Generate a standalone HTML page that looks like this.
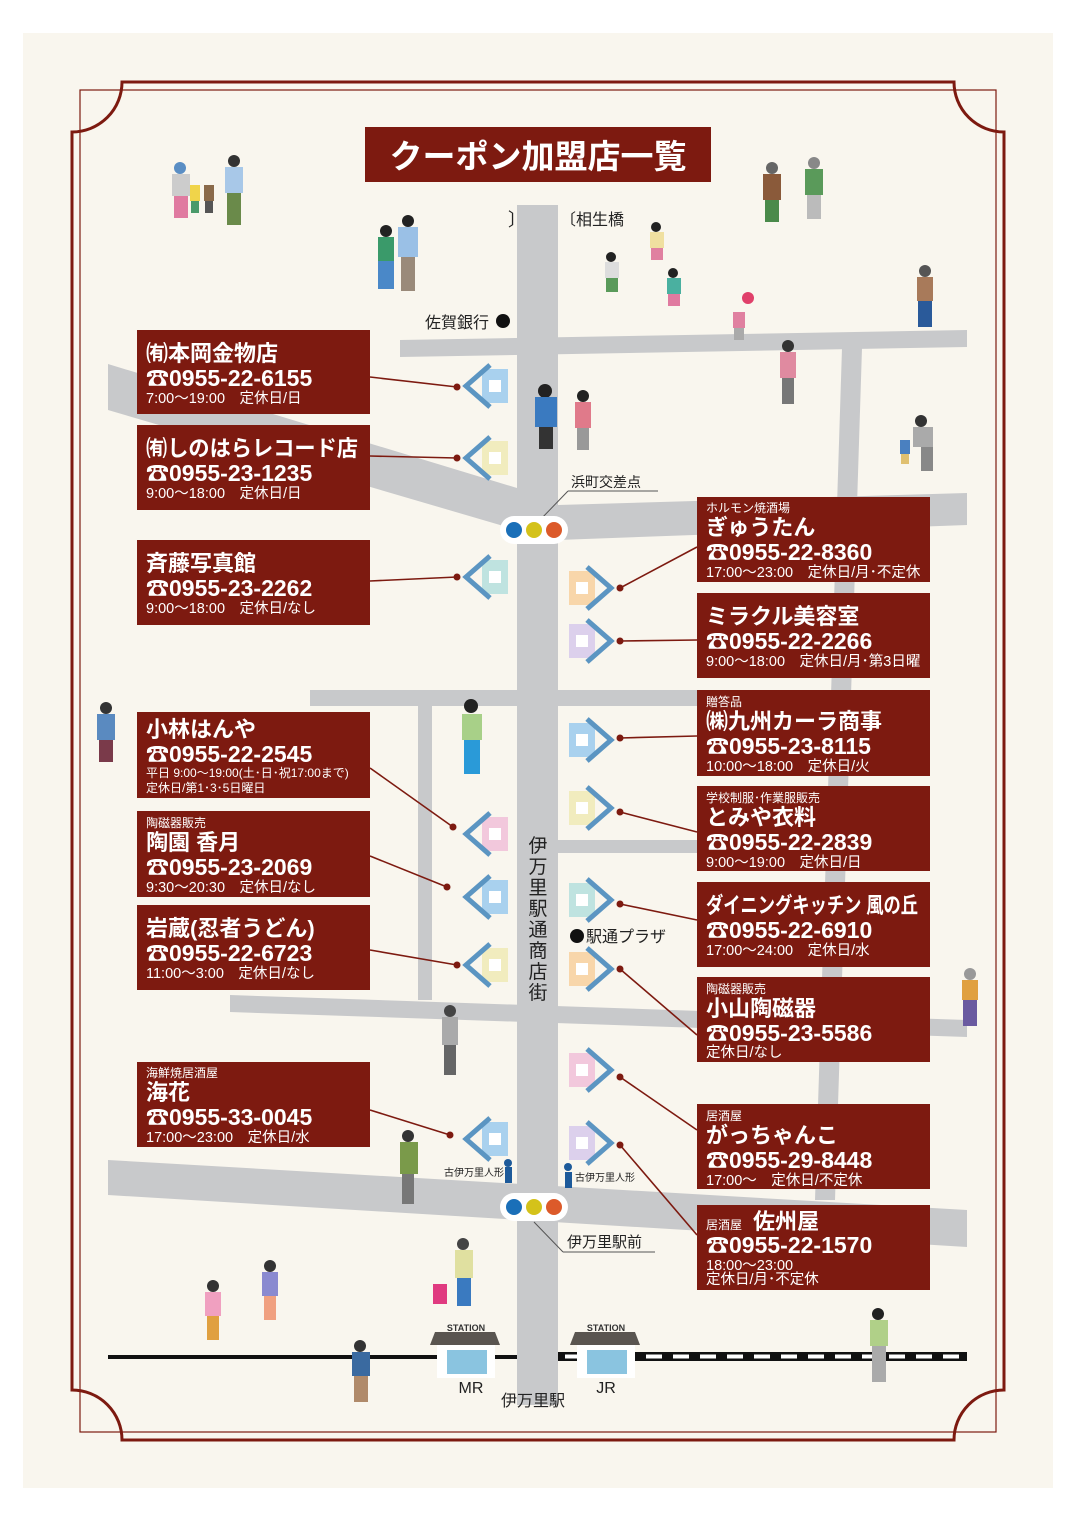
<!DOCTYPE html>
<html><head><meta charset="utf-8">
<style>
html,body{margin:0;padding:0;background:#fff;}
svg{display:block;}
text{font-family:"Liberation Sans","Noto Sans CJK JP",sans-serif;}
.n{fill:#fff;font-size:22px;font-weight:bold;}
.p{fill:#fff;font-size:23px;font-weight:bold;}
.h{fill:#fff;font-size:14.5px;}
.c{fill:#fff;font-size:12px;}
.b{fill:#7d1a10;}
.l{stroke:#7d1a10;stroke-width:1.6;fill:none;}
.d{fill:#7d1a10;}
.r{fill:#c8c9cb;}
.t{fill:#222;}
</style></head><body>
<svg width="1076" height="1522" viewBox="0 0 1076 1522" xmlns="http://www.w3.org/2000/svg">
<rect x="0" y="0" width="1076" height="1522" fill="#fff"/>
<rect x="23" y="33" width="1030" height="1455" fill="#f9f6ee"/>

<!-- roads -->
<g class="r">
<polygon points="400,340 967,330 967,347 400,357"/>
<polygon points="108,364 517,488 517,530 108,410"/>
<polygon points="558,505 967,493 967,525 558,540"/>
<polygon points="842,348 862,348 835,1200 815,1200"/>
<polygon points="310,690 697,690 697,706 310,706"/>
<rect x="418" y="700" width="14" height="300"/>
<polygon points="558,840 697,840 697,853 558,853"/>
<polygon points="230,995 967,1020 967,1037 230,1012"/>
<polygon points="108,1160 967,1210 967,1247 108,1195"/>
<rect x="517" y="205" width="41" height="1200"/>
</g>

<!-- frame -->
<g fill="none" stroke="#7d1a10">
<path d="M72,132 A50,50 0 0 0 122,82 L954,82 A50,50 0 0 0 1004,132 L1004,1390 A50,50 0 0 0 954,1440 L122,1440 A50,50 0 0 0 72,1390 Z" stroke-width="3"/>
<rect x="80" y="90" width="916" height="1342" stroke-width="1.2"/>
</g>

<!-- title -->
<rect x="365" y="127" width="346" height="55" class="b"/>
<text x="538" y="168" text-anchor="middle" fill="#fff" style="font-size:33px;font-weight:bold">クーポン加盟店一覧</text>

<!-- labels -->
<text x="508" y="226" class="t" style="font-size:18px">〕</text>
<text x="560" y="225" class="t" style="font-size:16px">〔相生橋</text>
<text x="425" y="328" class="t" style="font-size:16px">佐賀銀行</text><circle cx="503" cy="321" r="7" fill="#111"/>
<text x="571" y="487" class="t" style="font-size:14px">浜町交差点</text>
<line x1="568" y1="491" x2="658" y2="491" stroke="#555" stroke-width="1"/>
<line x1="568" y1="491" x2="540" y2="520" stroke="#555" stroke-width="1"/>
<text x="567" y="1247" class="t" style="font-size:15px">伊万里駅前</text>
<line x1="563" y1="1252" x2="655" y2="1252" stroke="#555" stroke-width="1"/>
<line x1="563" y1="1252" x2="534" y2="1222" stroke="#555" stroke-width="1"/>
<circle cx="577" cy="936" r="7" fill="#111"/><text x="586" y="942" class="t" style="font-size:16px">駅通プラザ</text>
<g class="t" text-anchor="middle" style="font-size:19px">
<text x="538" y="852">伊</text><text x="538" y="873">万</text><text x="538" y="894">里</text><text x="538" y="915">駅</text><text x="538" y="936">通</text><text x="538" y="957">商</text><text x="538" y="978">店</text><text x="538" y="999">街</text>
</g>
<text x="444" y="1176" class="t" style="font-size:10px">古伊万里人形</text>
<rect x="505" y="1167" width="7" height="16" fill="#1d5a9a"/><circle cx="508" cy="1163" r="4" fill="#1d5a9a"/>
<rect x="565" y="1172" width="7" height="16" fill="#1d5a9a"/><circle cx="568" cy="1167" r="4" fill="#1d5a9a"/>
<text x="575" y="1181" class="t" style="font-size:10px">古伊万里人形</text>

<!-- traffic lights -->
<g>
<rect x="500" y="516" width="68" height="28" rx="14" fill="#fff"/>
<circle cx="514" cy="530" r="8" fill="#1a6fb8"/><circle cx="534" cy="530" r="8" fill="#d4c21a"/><circle cx="554" cy="530" r="8" fill="#dc5a2a"/>
<rect x="500" y="1193" width="68" height="28" rx="14" fill="#fff"/>
<circle cx="514" cy="1207" r="8" fill="#1a6fb8"/><circle cx="534" cy="1207" r="8" fill="#d4c21a"/><circle cx="554" cy="1207" r="8" fill="#dc5a2a"/>
</g>

<!-- rail -->
<rect x="108" y="1355" width="409" height="4" fill="#111"/>
<rect x="558" y="1352" width="409" height="9" fill="#111"/>
<line x1="565" y1="1356.5" x2="967" y2="1356.5" stroke="#fff" stroke-width="4" stroke-dasharray="16,11"/>
<!-- stations -->
<g>
<rect x="437" y="1340" width="58" height="38" fill="#fff"/>
<polygon points="430,1345 500,1345 495,1332 435,1332" fill="#5a5550"/>
<text x="466" y="1331" text-anchor="middle" fill="#333" style="font-size:9px;font-weight:bold">STATION</text>
<rect x="447" y="1350" width="40" height="24" fill="#8ac4e0"/>
<text x="471" y="1393" text-anchor="middle" class="t" style="font-size:16px">MR</text>
<rect x="577" y="1340" width="58" height="38" fill="#fff"/>
<polygon points="570,1345 640,1345 635,1332 575,1332" fill="#5a5550"/>
<text x="606" y="1331" text-anchor="middle" fill="#333" style="font-size:9px;font-weight:bold">STATION</text>
<rect x="587" y="1350" width="40" height="24" fill="#8ac4e0"/>
<text x="606" y="1393" text-anchor="middle" class="t" style="font-size:16px">JR</text>
<text x="533" y="1406" text-anchor="middle" class="t" style="font-size:16px">伊万里駅</text>
</g>

<!-- house icons: left pointing -->
<g>
<g transform="translate(475,386)"><rect x="7" y="-17" width="26" height="34" fill="#a9d1ee"/><rect x="14" y="-6" width="12" height="12" fill="#fff"/><polyline points="15,-21 -9,0 15,21" fill="none" stroke="#5b95c2" stroke-width="5"/></g>
<g transform="translate(475,458)"><rect x="7" y="-17" width="26" height="34" fill="#f1ecbe"/><rect x="14" y="-6" width="12" height="12" fill="#fff"/><polyline points="15,-21 -9,0 15,21" fill="none" stroke="#5b95c2" stroke-width="5"/></g>
<g transform="translate(475,577)"><rect x="7" y="-17" width="26" height="34" fill="#bfe3e0"/><rect x="14" y="-6" width="12" height="12" fill="#fff"/><polyline points="15,-21 -9,0 15,21" fill="none" stroke="#5b95c2" stroke-width="5"/></g>
<g transform="translate(475,834)"><rect x="7" y="-17" width="26" height="34" fill="#f2c8dc"/><rect x="14" y="-6" width="12" height="12" fill="#fff"/><polyline points="15,-21 -9,0 15,21" fill="none" stroke="#5b95c2" stroke-width="5"/></g>
<g transform="translate(475,897)"><rect x="7" y="-17" width="26" height="34" fill="#a9d1ee"/><rect x="14" y="-6" width="12" height="12" fill="#fff"/><polyline points="15,-21 -9,0 15,21" fill="none" stroke="#5b95c2" stroke-width="5"/></g>
<g transform="translate(475,965)"><rect x="7" y="-17" width="26" height="34" fill="#f1ecbe"/><rect x="14" y="-6" width="12" height="12" fill="#fff"/><polyline points="15,-21 -9,0 15,21" fill="none" stroke="#5b95c2" stroke-width="5"/></g>
<g transform="translate(475,1139)"><rect x="7" y="-17" width="26" height="34" fill="#a9d1ee"/><rect x="14" y="-6" width="12" height="12" fill="#fff"/><polyline points="15,-21 -9,0 15,21" fill="none" stroke="#5b95c2" stroke-width="5"/></g>
<g transform="translate(602,588)"><rect x="-33" y="-17" width="26" height="34" fill="#f8d6aa"/><rect x="-26" y="-6" width="12" height="12" fill="#fff"/><polyline points="-15,-21 9,0 -15,21" fill="none" stroke="#5b95c2" stroke-width="5"/></g>
<g transform="translate(602,641)"><rect x="-33" y="-17" width="26" height="34" fill="#dcd0ec"/><rect x="-26" y="-6" width="12" height="12" fill="#fff"/><polyline points="-15,-21 9,0 -15,21" fill="none" stroke="#5b95c2" stroke-width="5"/></g>
<g transform="translate(602,740)"><rect x="-33" y="-17" width="26" height="34" fill="#a9d1ee"/><rect x="-26" y="-6" width="12" height="12" fill="#fff"/><polyline points="-15,-21 9,0 -15,21" fill="none" stroke="#5b95c2" stroke-width="5"/></g>
<g transform="translate(602,808)"><rect x="-33" y="-17" width="26" height="34" fill="#f1ecbe"/><rect x="-26" y="-6" width="12" height="12" fill="#fff"/><polyline points="-15,-21 9,0 -15,21" fill="none" stroke="#5b95c2" stroke-width="5"/></g>
<g transform="translate(602,900)"><rect x="-33" y="-17" width="26" height="34" fill="#bfe3e0"/><rect x="-26" y="-6" width="12" height="12" fill="#fff"/><polyline points="-15,-21 9,0 -15,21" fill="none" stroke="#5b95c2" stroke-width="5"/></g>
<g transform="translate(602,969)"><rect x="-33" y="-17" width="26" height="34" fill="#f8d6aa"/><rect x="-26" y="-6" width="12" height="12" fill="#fff"/><polyline points="-15,-21 9,0 -15,21" fill="none" stroke="#5b95c2" stroke-width="5"/></g>
<g transform="translate(602,1070)"><rect x="-33" y="-17" width="26" height="34" fill="#f2c8dc"/><rect x="-26" y="-6" width="12" height="12" fill="#fff"/><polyline points="-15,-21 9,0 -15,21" fill="none" stroke="#5b95c2" stroke-width="5"/></g>
<g transform="translate(602,1143)"><rect x="-33" y="-17" width="26" height="34" fill="#dcd0ec"/><rect x="-26" y="-6" width="12" height="12" fill="#fff"/><polyline points="-15,-21 9,0 -15,21" fill="none" stroke="#5b95c2" stroke-width="5"/></g>
</g>

<!-- leader lines -->
<g class="l">
<line x1="370" y1="377" x2="457" y2="387"/>
<line x1="370" y1="456" x2="457" y2="458"/>
<line x1="370" y1="581" x2="457" y2="577"/>
<line x1="370" y1="768" x2="453" y2="827"/>
<line x1="370" y1="856" x2="447" y2="887"/>
<line x1="370" y1="950" x2="457" y2="965"/>
<line x1="370" y1="1110" x2="450" y2="1135"/>
<line x1="697" y1="547" x2="620" y2="588"/>
<line x1="697" y1="640" x2="620" y2="641"/>
<line x1="697" y1="736" x2="620" y2="738"/>
<line x1="697" y1="832" x2="620" y2="812"/>
<line x1="697" y1="920" x2="620" y2="904"/>
<line x1="697" y1="1035" x2="620" y2="969"/>
<line x1="697" y1="1130" x2="620" y2="1077"/>
<line x1="697" y1="1235" x2="620" y2="1145"/>
</g>
<g class="d">
<circle cx="457" cy="387" r="3.5"/><circle cx="457" cy="458" r="3.5"/><circle cx="457" cy="577" r="3.5"/><circle cx="453" cy="827" r="3.5"/><circle cx="447" cy="887" r="3.5"/><circle cx="457" cy="965" r="3.5"/><circle cx="450" cy="1135" r="3.5"/>
<circle cx="620" cy="588" r="3.5"/><circle cx="620" cy="641" r="3.5"/><circle cx="620" cy="738" r="3.5"/><circle cx="620" cy="812" r="3.5"/><circle cx="620" cy="904" r="3.5"/><circle cx="620" cy="969" r="3.5"/><circle cx="620" cy="1077" r="3.5"/><circle cx="620" cy="1145" r="3.5"/>
</g>

<!-- left boxes -->
<rect x="137" y="330" width="233" height="84" class="b"/>
<text x="146" y="361" class="n">㈲本岡金物店</text><text x="146" y="386" class="p">☎0955-22-6155</text><text x="146" y="403" class="h">7:00～19:00　定休日/日</text>
<rect x="137" y="425" width="233" height="85" class="b"/>
<text x="146" y="456" class="n" textLength="212" lengthAdjust="spacingAndGlyphs">㈲しのはらレコード店</text><text x="146" y="481" class="p">☎0955-23-1235</text><text x="146" y="498" class="h">9:00～18:00　定休日/日</text>
<rect x="137" y="540" width="233" height="85" class="b"/>
<text x="146" y="571" class="n">斉藤写真館</text><text x="146" y="596" class="p">☎0955-23-2262</text><text x="146" y="613" class="h">9:00～18:00　定休日/なし</text>
<rect x="137" y="712" width="233" height="86" class="b"/>
<text x="146" y="737" class="n">小林はんや</text><text x="146" y="762" class="p">☎0955-22-2545</text><text x="146" y="777" class="c">平日 9:00～19:00(土･日･祝17:00まで)</text><text x="146" y="792" class="c">定休日/第1･3･5日曜日</text>
<rect x="137" y="811" width="233" height="86" class="b"/>
<text x="146" y="827" class="c">陶磁器販売</text><text x="146" y="850" class="n">陶園 香月</text><text x="146" y="875" class="p">☎0955-23-2069</text><text x="146" y="892" class="h">9:30～20:30　定休日/なし</text>
<rect x="137" y="905" width="233" height="85" class="b"/>
<text x="146" y="936" class="n">岩蔵(忍者うどん)</text><text x="146" y="961" class="p">☎0955-22-6723</text><text x="146" y="978" class="h">11:00～3:00　定休日/なし</text>
<rect x="137" y="1062" width="233" height="85" class="b"/>
<text x="146" y="1077" class="c">海鮮焼居酒屋</text><text x="146" y="1100" class="n">海花</text><text x="146" y="1125" class="p">☎0955-33-0045</text><text x="146" y="1142" class="h">17:00～23:00　定休日/水</text>

<!-- right boxes -->
<rect x="697" y="497" width="233" height="85" class="b"/>
<text x="706" y="512" class="c">ホルモン焼酒場</text><text x="706" y="535" class="n">ぎゅうたん</text><text x="706" y="560" class="p">☎0955-22-8360</text><text x="706" y="577" class="h">17:00～23:00　定休日/月･不定休</text>
<rect x="697" y="593" width="233" height="85" class="b"/>
<text x="706" y="624" class="n">ミラクル美容室</text><text x="706" y="649" class="p">☎0955-22-2266</text><text x="706" y="666" class="h">9:00～18:00　定休日/月･第3日曜</text>
<rect x="697" y="690" width="233" height="86" class="b"/>
<text x="706" y="706" class="c">贈答品</text><text x="706" y="729" class="n">㈱九州カーラ商事</text><text x="706" y="754" class="p">☎0955-23-8115</text><text x="706" y="771" class="h">10:00～18:00　定休日/火</text>
<rect x="697" y="786" width="233" height="85" class="b"/>
<text x="706" y="802" class="c">学校制服･作業服販売</text><text x="706" y="825" class="n">とみや衣料</text><text x="706" y="850" class="p">☎0955-22-2839</text><text x="706" y="867" class="h">9:00～19:00　定休日/日</text>
<rect x="697" y="882" width="233" height="85" class="b"/>
<text x="706" y="913" class="n" textLength="212" lengthAdjust="spacingAndGlyphs">ダイニングキッチン 風の丘</text><text x="706" y="938" class="p">☎0955-22-6910</text><text x="706" y="955" class="h">17:00～24:00　定休日/水</text>
<rect x="697" y="977" width="233" height="85" class="b"/>
<text x="706" y="993" class="c">陶磁器販売</text><text x="706" y="1016" class="n">小山陶磁器</text><text x="706" y="1041" class="p">☎0955-23-5586</text><text x="706" y="1057" class="h">定休日/なし</text>
<rect x="697" y="1104" width="233" height="85" class="b"/>
<text x="706" y="1120" class="c">居酒屋</text><text x="706" y="1143" class="n">がっちゃんこ</text><text x="706" y="1168" class="p">☎0955-29-8448</text><text x="706" y="1185" class="h">17:00～　定休日/不定休</text>
<rect x="697" y="1205" width="233" height="85" class="b"/>
<text x="706" y="1229" class="c">居酒屋</text><text x="753" y="1229" class="n">佐州屋</text><text x="706" y="1253" class="p">☎0955-22-1570</text><text x="706" y="1270" class="h">18:00～23:00</text><text x="706" y="1284" class="h">定休日/月･不定休</text>

<!-- people (simplified) -->
<g>
<g transform="translate(170,160)"><circle cx="10" cy="8" r="6" fill="#5a8ec4"/><rect x="2" y="14" width="18" height="22" fill="#ccc"/><rect x="4" y="36" width="14" height="22" fill="#e07aa0"/></g>
<g transform="translate(190,185)"><rect x="0" y="0" width="10" height="16" fill="#f0d44a"/><rect x="1" y="16" width="8" height="12" fill="#4a9a6a"/><rect x="14" y="0" width="10" height="16" fill="#8a6a4a"/><rect x="15" y="16" width="8" height="12" fill="#555"/></g>
<g transform="translate(225,155)"><circle cx="9" cy="6" r="6" fill="#333"/><rect x="0" y="12" width="18" height="26" fill="#a8c8e8"/><rect x="2" y="38" width="14" height="32" fill="#6a8a4a"/></g>
<g transform="translate(377,225)"><circle cx="9" cy="6" r="6" fill="#222"/><rect x="1" y="12" width="16" height="24" fill="#3a9a6a"/><rect x="1" y="36" width="16" height="28" fill="#4a88c8"/></g>
<g transform="translate(398,215)"><circle cx="10" cy="6" r="6" fill="#222"/><rect x="0" y="12" width="20" height="30" fill="#9ac0e6"/><rect x="3" y="42" width="14" height="34" fill="#9a8a7a"/></g>
<g transform="translate(763,162)"><circle cx="9" cy="6" r="6" fill="#666"/><rect x="0" y="12" width="18" height="26" fill="#8a5a3a"/><rect x="2" y="38" width="14" height="22" fill="#4a8a4a"/></g>
<g transform="translate(805,157)"><circle cx="9" cy="6" r="6" fill="#888"/><rect x="0" y="12" width="18" height="26" fill="#5a9a5a"/><rect x="2" y="38" width="14" height="24" fill="#bbb"/></g>
<g transform="translate(917,265)"><circle cx="8" cy="6" r="6" fill="#555"/><rect x="0" y="12" width="16" height="24" fill="#a87a5a"/><rect x="1" y="36" width="14" height="26" fill="#2a5a9a"/></g>
<g transform="translate(780,340)"><circle cx="8" cy="6" r="6" fill="#333"/><rect x="0" y="12" width="16" height="26" fill="#e08aa0"/><rect x="2" y="38" width="12" height="26" fill="#777"/></g>
<g transform="translate(535,385)"><circle cx="10" cy="6" r="7" fill="#222"/><rect x="0" y="12" width="22" height="30" fill="#3a7ac0"/><rect x="4" y="42" width="14" height="22" fill="#333"/></g>
<g transform="translate(575,390)"><circle cx="8" cy="6" r="6" fill="#222"/><rect x="0" y="12" width="16" height="26" fill="#e07a8a"/><rect x="2" y="38" width="12" height="22" fill="#999"/></g>
<g transform="translate(462,700)"><circle cx="9" cy="6" r="7" fill="#222"/><rect x="0" y="14" width="20" height="26" fill="#a8d088"/><rect x="2" y="40" width="16" height="34" fill="#2a9ad8"/></g>
<g transform="translate(97,702)"><circle cx="9" cy="6" r="6" fill="#333"/><rect x="0" y="12" width="18" height="26" fill="#5a8ac0"/><rect x="2" y="38" width="14" height="22" fill="#7a3a4a"/></g>
<g transform="translate(962,968)"><circle cx="8" cy="6" r="6" fill="#999"/><rect x="0" y="12" width="16" height="20" fill="#e0a040"/><rect x="1" y="32" width="14" height="26" fill="#6a5aa0"/></g>
<g transform="translate(442,1005)"><circle cx="8" cy="6" r="6" fill="#444"/><rect x="0" y="12" width="16" height="28" fill="#aaa"/><rect x="2" y="40" width="12" height="30" fill="#666"/></g>
<g transform="translate(400,1130)"><circle cx="8" cy="6" r="6" fill="#333"/><rect x="0" y="12" width="18" height="32" fill="#7a9a4a"/><rect x="2" y="44" width="12" height="30" fill="#777"/></g>
<g transform="translate(455,1238)"><circle cx="8" cy="6" r="6" fill="#444"/><rect x="0" y="12" width="18" height="28" fill="#e0e0a0"/><rect x="2" y="40" width="14" height="28" fill="#3a7ac0"/><rect x="-22" y="46" width="14" height="20" fill="#e03a80"/></g>
<g transform="translate(205,1280)"><circle cx="8" cy="6" r="6" fill="#333"/><rect x="0" y="12" width="16" height="24" fill="#f0a0c0"/><rect x="2" y="36" width="12" height="24" fill="#e0a040"/></g>
<g transform="translate(262,1260)"><circle cx="8" cy="6" r="6" fill="#333"/><rect x="0" y="12" width="16" height="24" fill="#8a8ad0"/><rect x="2" y="36" width="12" height="24" fill="#f0a080"/></g>
<g transform="translate(352,1340)"><circle cx="8" cy="6" r="6" fill="#333"/><rect x="0" y="12" width="18" height="24" fill="#3a6aa0"/><rect x="2" y="36" width="14" height="26" fill="#b08a6a"/></g>
<g transform="translate(870,1308)"><circle cx="8" cy="6" r="6" fill="#222"/><rect x="0" y="12" width="18" height="26" fill="#b0d088"/><rect x="2" y="38" width="14" height="36" fill="#aaa"/></g>
<g transform="translate(605,252)"><circle cx="6" cy="5" r="5" fill="#222"/><rect x="0" y="10" width="14" height="16" fill="#ddd"/><rect x="1" y="26" width="12" height="14" fill="#5a9a5a"/></g>
<g transform="translate(650,222)"><circle cx="6" cy="5" r="5" fill="#222"/><rect x="0" y="10" width="14" height="16" fill="#f0e0a0"/><rect x="1" y="26" width="12" height="12" fill="#e080a0"/></g>
<g transform="translate(667,268)"><circle cx="6" cy="5" r="5" fill="#222"/><rect x="0" y="10" width="14" height="16" fill="#4ab0a0"/><rect x="1" y="26" width="12" height="12" fill="#e07aa0"/></g>
<circle cx="748" cy="298" r="6" fill="#e0406a"/>
<g transform="translate(733,312)"><rect x="0" y="0" width="12" height="16" fill="#e080a0"/><rect x="1" y="16" width="10" height="12" fill="#aaa"/></g>
<g transform="translate(913,415)"><circle cx="8" cy="6" r="6" fill="#333"/><rect x="0" y="12" width="20" height="20" fill="#aaa"/><rect x="8" y="32" width="12" height="24" fill="#888"/></g>
<g transform="translate(900,440)"><rect x="0" y="0" width="10" height="14" fill="#4a80c0"/><rect x="1" y="14" width="8" height="10" fill="#e0c070"/></g>
</g>
</svg>
</body></html>
